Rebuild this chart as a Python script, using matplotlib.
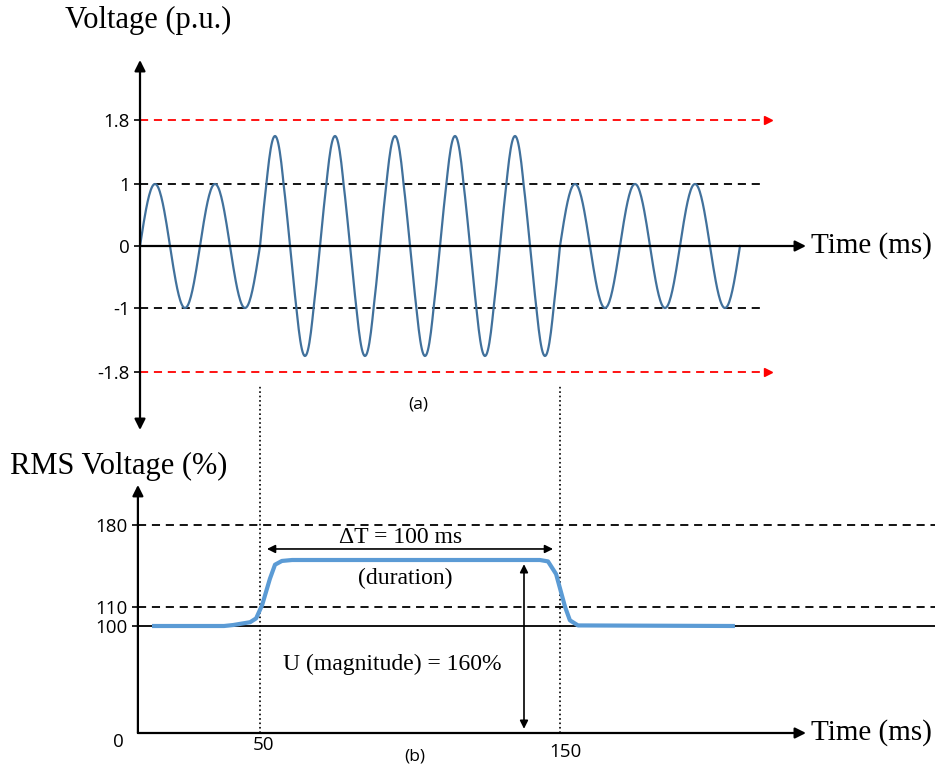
import numpy as np
import matplotlib.pyplot as plt

plt.rcParams['font.family'] = ['Open Sans', 'DejaVu Sans']
SERIF = 'Liberation Serif'

# peak value of each 20 ms cycle of the supply voltage (p.u.)
cycle_peaks = [1, 1, 1.6, 1.6, 1.6, 1.6, 1.6, 1, 1, 1]
period_ms = 20
wave_start = 10

volt_ticks = [1.8, 1, 0, -1, -1.8]
volt_labels = ['1.8', '1', '0', '-1', '-1.8']
volt_limits = [1, -1]
volt_thresholds = [1.8, -1.8]

# RMS voltage through the swell (% of nominal)
rms_t = [14, 38, 41, 46.7, 48.7, 50.7, 53.3, 55, 57.3, 60.7,
         143.3, 146, 148.7, 151.7, 153.3, 156, 208.3]
rms_v = [100, 100, 100.5, 102, 104, 112, 140, 155, 159, 160,
         160, 158.5, 145, 110, 103, 100.3, 100]
rms_ticks = [180, 110, 100]
rms_labels = ['180', '110', '100']
swell_start, swell_end = 50, 150
swell_level = 160


def stretched(vals, pix):
    # piecewise-linear axis so the schematic levels sit where they are drawn
    return (lambda v: np.interp(v, vals, pix),
            lambda p: np.interp(p, pix, vals))


fig = plt.figure(figsize=(9.4, 7.72), dpi=100)
ax1 = fig.add_axes([0, 332 / 772, 1, 400 / 772])
ax2 = fig.add_axes([0, 0, 1, 332 / 772])

fwd1, inv1 = stretched([-10, -1.8, -1, 0, 1, 1.8, 10],
                       [-782, -126, -62, 0, 62, 126, 782])
fwd2, inv2 = stretched([-200, 0, 100, 110, 160, 180, 500],
                       [-214, 0, 107, 126, 173, 208, 688])
ax1.set_yscale('function', functions=(fwd1, inv1))
ax2.set_yscale('function', functions=(fwd2, inv2))
ax1.set_ylim(float(inv1(-194)), float(inv1(206)))
ax2.set_ylim(float(inv2(-39)), float(inv2(293)))

for ax, x0 in [(ax1, 10), (ax2, 9.3)]:
    ax.set_xlim(-36.67, 276.67)
    ax.set_facecolor('none')
    for s in ax.spines.values():
        s.set_visible(False)
    ax.spines['left'].set_position(('data', x0))
    ax.set_xticks([])
    ax.tick_params(axis='y', length=4.5, width=1.2, pad=3, labelsize=13.5)

arrow = dict(arrowstyle='-|>', color='black', lw=1.6, mutation_scale=16,
             shrinkA=0, shrinkB=0)

# (a) instantaneous voltage
ax1.set_yticks(volt_ticks, volt_labels)
ax1.annotate('', xy=(10, 2.55), xytext=(10, -2.525),
             arrowprops=dict(arrow, arrowstyle='<|-|>'))
ax1.annotate('', xy=(232, 0), xytext=(10, 0), arrowprops=arrow)
ax1.hlines(volt_limits, 10, 218.3, colors='black', lw=1.3,
           linestyles=[(0, (4.5, 3.2))])
ax1.hlines(volt_thresholds, 10, 217, colors='red', lw=1.3,
           linestyles=[(0, (4.5, 3.2))])
ax1.plot([219.3] * 2, volt_thresholds, ls='none', marker='>',
         color='red', markersize=6)

t_parts, v_parts = [], []
for k, peak in enumerate(cycle_peaks):
    tk = np.linspace(0, period_ms, 80)
    t_parts.append(wave_start + k * period_ms + tk)
    v_parts.append(peak * np.sin(2 * np.pi * tk / period_ms))
ax1.plot(np.concatenate(t_parts), np.concatenate(v_parts),
         color='#41719C', lw=1.6)

ax1.text(-15, 3.05, 'Voltage (p.u.)', fontsize=22, family=SERIF,
         ha='left', va='center', clip_on=False)
ax1.text(233.7, 0, 'Time (ms)', fontsize=21, family=SERIF,
         ha='left', va='center')
ax1.text(102.7, -2.21, '(a)', fontsize=12.5, ha='center', va='center')

# (b) RMS voltage
ax2.set_yticks(rms_ticks, rms_labels)
ax2.annotate('', xy=(9.3, 206.7), xytext=(9.3, 0), arrowprops=arrow)
ax2.annotate('', xy=(232, 0), xytext=(9.3, 0), arrowprops=arrow)
ax2.hlines([180, 110], 9.3, 275, colors='black', lw=1.3,
           linestyles=[(0, (4.5, 3.2))])
ax2.hlines(100, 9.3, 275, colors='black', lw=1.3)
ax2.vlines([swell_start, swell_end], 0, 273.3, colors='black', lw=1.2,
           linestyles=':', clip_on=False)
ax2.plot(rms_t, rms_v, color='#5B9BD5', lw=3, solid_capstyle='butt')

ax2.annotate('', xy=(swell_end, 166.3), xytext=(swell_start, 166.3),
             arrowprops=dict(arrowstyle='<|-|>', color='black', lw=1.2,
                             mutation_scale=12, shrinkA=5, shrinkB=5))
ax2.annotate('', xy=(138, swell_level), xytext=(138, 0),
             arrowprops=dict(arrowstyle='<|-|>', color='black', lw=1.2,
                             mutation_scale=12, shrinkA=3, shrinkB=3))

ax2.text(96.7, 173.1, f'ΔT = {swell_end - swell_start} ms', fontsize=17,
         family=SERIF, ha='center', va='center')
ax2.text(98.3, 140.9, '(duration)', fontsize=17, family=SERIF,
         ha='center', va='center')
ax2.text(94, 64.5, f'U (magnitude) = {swell_level}%', fontsize=17,
         family=SERIF, ha='center', va='center')
ax2.text(-33.3, 218.7, 'RMS Voltage (%)', fontsize=22, family=SERIF,
         ha='left', va='center', clip_on=False)
ax2.text(233.7, 0, 'Time (ms)', fontsize=21, family=SERIF,
         ha='left', va='center')
ax2.text(2.7, -8.4, '0', fontsize=13.5, ha='center', va='center')
ax2.text(51.3, -11.2, str(swell_start), fontsize=13.5, ha='center', va='center')
ax2.text(151.7, -17.8, str(swell_end), fontsize=13.5, ha='center', va='center')
ax2.text(101.7, -22.4, '(b)', fontsize=12.5, ha='center', va='center')

fig.savefig('out.png', dpi=100)
